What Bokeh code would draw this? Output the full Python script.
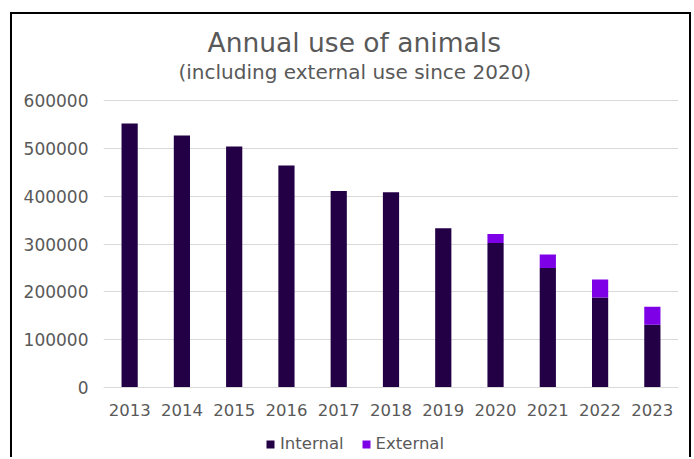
from bokeh.plotting import figure
from bokeh.models import (Title, Legend, LegendItem, FixedTicker, NumeralTickFormatter,
                          ColumnDataSource)
from bokeh.embed import file_html
from bokeh.resources import INLINE

years = ["2013", "2014", "2015", "2016", "2017", "2018", "2019", "2020", "2021", "2022", "2023"]
internal = [552000, 527000, 504000, 464000, 411000, 408000, 333000, 302000, 250000, 188000, 131000]
external = [0, 0, 0, 0, 0, 0, 0, 19000, 28000, 38000, 38000]
y_ticks = [0, 100000, 200000, 300000, 400000, 500000, 600000]

TEXT = "#595959"
FONT = "DejaVu Sans"

src = ColumnDataSource(dict(year=years, Internal=internal, External=external))

# vertical scale: 287 px for 0..600000; the plot frame extends 17 px above the
# top gridline and down past the x labels so that the legend can sit inside it
PX = 600000 / 287
FRAME_H = 374
y_top = 600000 + 17 * PX
y_bottom = -(FRAME_H - 304) * PX

p = figure(x_range=years, y_range=(y_bottom, y_top), frame_width=575, frame_height=FRAME_H,
           output_backend="svg", toolbar_location=None, title=None,
           min_border_left=91, min_border_right=11, min_border_top=69, min_border_bottom=0)
p.styles = {"margin-left": "10px", "margin-top": "12px",
            "border-top": "2px solid black", "border-left": "2px solid black",
            "border-right": "2px solid black"}

rs = p.vbar_stack(["Internal", "External"], x="year", width=0.31, source=src,
                  color=["#230046", "#7D00E6"], line_color=None)

p.add_layout(Title(text="(including external use since 2020)", align="left", offset=75,
                   text_font_size="20px", text_font=FONT, text_color=TEXT,
                   text_font_style="normal", standoff=0), "above")
p.add_layout(Title(text="Annual use of animals", align="left", offset=104,
                   text_font_size="26.5px", text_font=FONT, text_color=TEXT,
                   text_font_style="normal", standoff=0), "above")

p.outline_line_color = None
p.xgrid.grid_line_color = None
p.ygrid.grid_line_color = "#d9d9d9"
p.ygrid.grid_line_width = 1

p.yaxis.ticker = FixedTicker(ticks=y_ticks)
p.yaxis.formatter = NumeralTickFormatter(format="0")
p.yaxis.axis_line_color = None
p.yaxis.major_tick_line_color = None
p.yaxis.minor_tick_line_color = None
p.yaxis.major_label_text_font_size = "17px"
p.yaxis.major_label_text_font = FONT
p.yaxis.major_label_text_color = TEXT
p.yaxis.major_label_standoff = 9

p.xaxis.fixed_location = 0
p.xaxis.axis_line_color = "#d9d9d9"
p.xaxis.major_tick_line_color = None
p.xaxis.minor_tick_line_color = None
p.xaxis.major_tick_out = 0
p.xaxis.major_tick_in = 0
p.xaxis.minor_tick_out = 0
p.xaxis.axis_label_standoff = 0
p.xaxis.major_label_text_font_size = "16.5px"
p.xaxis.major_label_text_font = FONT
p.xaxis.major_label_text_color = TEXT
p.xaxis.major_label_standoff = 16

legend = Legend(items=[LegendItem(label="Internal", renderers=[rs[0]]),
                       LegendItem(label="External", renderers=[rs[1]])],
                orientation="horizontal", location=(162, 4),
                glyph_width=10, glyph_height=10, label_standoff=5, spacing=17,
                label_text_font_size="16.5px", label_text_font=FONT, label_text_color=TEXT,
                border_line_color=None, background_fill_alpha=0, padding=0, margin=0)
p.add_layout(legend, "center")

open("out.html", "w").write(file_html(p, INLINE))
